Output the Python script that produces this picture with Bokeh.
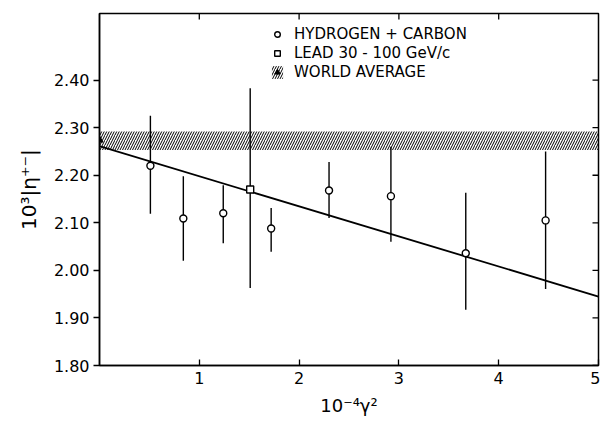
import math
from bokeh.plotting import figure
from bokeh.models import Range1d, FixedTicker, Legend, LegendItem
from bokeh.embed import file_html
from bokeh.resources import INLINE

# Hydrogen + carbon data (circles)
hc_x = [0.51, 0.84, 1.24, 1.72, 2.30, 2.92, 3.67, 4.47]
hc_y = [2.220, 2.109, 2.120, 2.088, 2.168, 2.156, 2.036, 2.105]
hc_lo = [2.119, 2.020, 2.057, 2.039, 2.110, 2.060, 1.917, 1.961]
hc_hi = [2.325, 2.198, 2.179, 2.131, 2.228, 2.260, 2.163, 2.250]

# Lead 30-100 GeV/c (square)
lead_x = [1.51]
lead_y = [2.170]
lead_lo = [1.963]
lead_hi = [2.383]

# World average band and marker
band_x0 = [0.0]
band_x1 = [5.0]
band_lo = [2.253]
band_hi = [2.292]
avg_x = [0.0]
avg_y = [2.274]

# Fitted line
fit_x = [0.0, 5.0]
fit_y = [2.261, 1.945]

x_min, x_max = 0.0, 5.0
y_min, y_max = 1.80, 2.54
x_ticks = [1, 2, 3, 4, 5]
y_ticks = [1.8, 1.9, 2.0, 2.1, 2.2, 2.3, 2.4]
y_labels = ["1.80", "1.90", "2.00", "2.10", "2.20", "2.30", "2.40"]

FONT = "DejaVu Sans"

p = figure(width=600, height=424, output_backend="svg", toolbar_location=None,
           x_range=Range1d(x_min, x_max), y_range=Range1d(y_min, y_max),
           min_border_left=99, min_border_right=2, min_border_top=13, min_border_bottom=59,
           x_axis_label="10⁻⁴γ²", y_axis_label="10³|η⁺⁻|")
p.grid.visible = False
p.outline_line_color = "black"
p.outline_line_width = 1.5
p.background_fill_color = "white"
p.border_fill_color = "white"

xa = p.xaxis[0]
xa.ticker = FixedTicker(ticks=x_ticks)
xa.major_tick_in = 6
xa.major_tick_out = 0
xa.minor_tick_line_color = None
xa.axis_line_width = 1.5
xa.major_tick_line_width = 1.3
xa.major_label_text_font = FONT
xa.major_label_text_font_size = "16px"
xa.major_label_text_color = "black"
xa.major_label_standoff = 6
xa.axis_label_text_font = FONT
xa.axis_label_text_font_size = "18px"
xa.axis_label_text_font_style = "normal"
xa.axis_label_text_color = "black"
xa.axis_label_standoff = 8

ya = p.yaxis[0]
ya.ticker = FixedTicker(ticks=y_ticks)
ya.major_label_overrides = {t: l for t, l in zip(y_ticks, y_labels)}
ya.major_tick_in = 0
ya.major_tick_out = 6
ya.minor_tick_line_color = None
ya.axis_line_width = 1.5
ya.major_tick_line_width = 1.3
ya.major_label_text_font = FONT
ya.major_label_text_font_size = "16px"
ya.major_label_text_color = "black"
ya.major_label_standoff = 4
ya.axis_label_text_font = FONT
ya.axis_label_text_font_size = "20px"
ya.axis_label_text_font_style = "normal"
ya.axis_label_text_color = "black"
ya.axis_label_standoff = 10

# inward ticks on the top and right edges of the frame
p.ray(x=x_ticks[:-1], y=[y_max] * (len(x_ticks) - 1), length=6, length_units="screen",
      angle=-math.pi / 2, line_color="black", line_width=1.3)
p.ray(x=[x_max] * len(y_ticks), y=y_ticks, length=6, length_units="screen",
      angle=math.pi, line_color="black", line_width=1.3)

band = p.quad(left=band_x0, right=band_x1, bottom=band_lo, top=band_hi,
              fill_color=None, line_color=None, hatch_pattern="/",
              hatch_color="black", hatch_scale=5, hatch_weight=1)
avg = p.scatter(avg_x, avg_y, marker="triangle", size=7, fill_color="black", line_color="black")

p.line(fit_x, fit_y, line_color="black", line_width=1.8)

p.segment(x0=hc_x, y0=hc_lo, x1=hc_x, y1=hc_hi, line_color="black", line_width=1.4)
p.segment(x0=lead_x, y0=lead_lo, x1=lead_x, y1=lead_hi, line_color="black", line_width=1.4)

hc = p.scatter(hc_x, hc_y, marker="circle", size=7, fill_color="white",
               line_color="black", line_width=1.4)
lead = p.scatter(lead_x, lead_y, marker="square", size=7, fill_color="white",
                 line_color="black", line_width=1.4)

legend = Legend(items=[
    LegendItem(label="HYDROGEN + CARBON", renderers=[hc]),
    LegendItem(label="LEAD 30 - 100 GeV/c", renderers=[lead]),
    LegendItem(label="WORLD AVERAGE", renderers=[band, avg]),
], location=(171, 284), border_line_color=None, background_fill_alpha=0,
    padding=0, margin=0, spacing=1, label_height=16, glyph_height=16, glyph_width=14,
    label_standoff=10, label_text_font=FONT, label_text_font_size="15px",
    label_text_color="black")
p.add_layout(legend, "center")

open("out.html", "w").write(file_html(p, INLINE))
